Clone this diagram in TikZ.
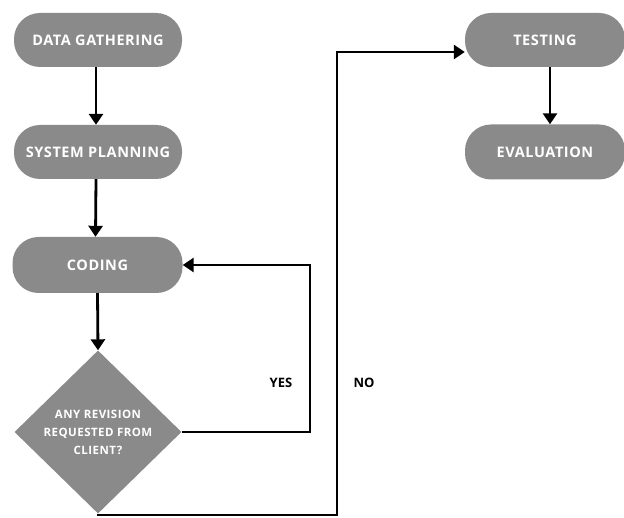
\documentclass[tikz,border=0pt]{standalone}
\usepackage{fontspec}
\setmainfont{Open Sans}
\newfontfamily\boxfont[LetterSpace=4]{Open Sans}
\usetikzlibrary{shapes.geometric,arrows.meta}
\definecolor{boxgray}{HTML}{8A8A8A}
\tikzset{
  pill/.style={draw=none,fill=boxgray,rounded corners=26pt,minimum width=168pt,minimum height=54pt,inner sep=0pt,text=white,font=\boxfont\fontsize{14.5}{16}\selectfont\bfseries},
  decision/.style={diamond,draw=none,fill=boxgray,minimum width=167pt,minimum height=163pt,inner sep=0pt,text=white,align=center,font=\boxfont\fontsize{11.5}{18}\selectfont\bfseries},
  flow/.style={line width=2.8pt,-{Triangle[length=11pt,width=14pt]}},
  lbl/.style={font=\fontsize{13}{15}\selectfont\bfseries,text=black}
}
\begin{document}
\begin{tikzpicture}[x=1pt,y=-1pt]
\useasboundingbox (0,0) rectangle (624,518);
\node[pill] (dg) at (98,40) {DATA GATHERING};
\node[pill] (sp) at (98,152) {SYSTEM PLANNING};
\node[pill,minimum width=170pt,minimum height=56pt] (cod) at (97.5,265) {CODING};
\node[decision] (dia) at (98,432) {ANY REVISION\\REQUESTED FROM\\CLIENT?};
\node[pill,minimum width=160pt] (test) at (545,40) {TESTING};
\node[pill,minimum width=160pt,minimum height=55pt] (eval) at (545,152) {EVALUATION};
\coordinate (yc) at (310,432);
\coordinate (nc) at (337,515);
\node[lbl] (yes) at (281,383) {YES};
\node[lbl] (no) at (364,383) {NO};
\draw[flow] ([xshift=-2pt]dg.south) -- ([xshift=-2pt]sp.north);
\draw[flow] ([xshift=-2pt]sp.south) -- ([xshift=-2pt]cod.north);
\draw[flow] (cod.south) -- (dia.north);
\draw[flow] (dia.east) -- (yc) |- (cod.east);
\draw[flow] (dia.south) |- (nc) |- ([yshift=-12pt]test.west);
\draw[flow] ([xshift=5pt]test.south) -- ([xshift=5pt]eval.north);
\end{tikzpicture}
\end{document}
